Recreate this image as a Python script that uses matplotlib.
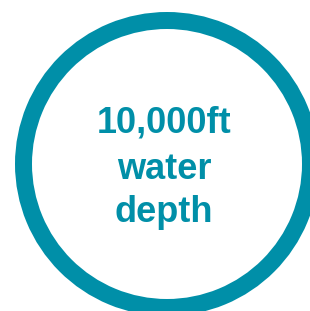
import matplotlib
matplotlib.use("Agg")
import matplotlib.pyplot as plt
from matplotlib.patches import Wedge

# ring geometry (pixel units of the 310x311 picture)
ring_center = (167, 164)
ring_outer = 152
ring_width = 17
teal = "#008FA8"

lines = ["10,000ft", "water", "depth"]
baselines = [132, 179, 222]
text_x = 164

fig = plt.figure(figsize=(3.10, 3.11), dpi=100)
ax = fig.add_axes([0, 0, 1, 1])
ax.set_xlim(0, 310)
ax.set_ylim(311, 0)
ax.set_aspect("equal")
ax.axis("off")

ax.add_patch(Wedge(ring_center, ring_outer, 0, 360, width=ring_width,
                   facecolor=teal, edgecolor="none"))

for txt, y in zip(lines, baselines):
    ax.text(text_x, y, txt, ha="center", va="baseline", color=teal,
            fontsize=26, fontweight="bold",
            family=["Liberation Sans", "DejaVu Sans"])

fig.savefig("out.png", dpi=100)
